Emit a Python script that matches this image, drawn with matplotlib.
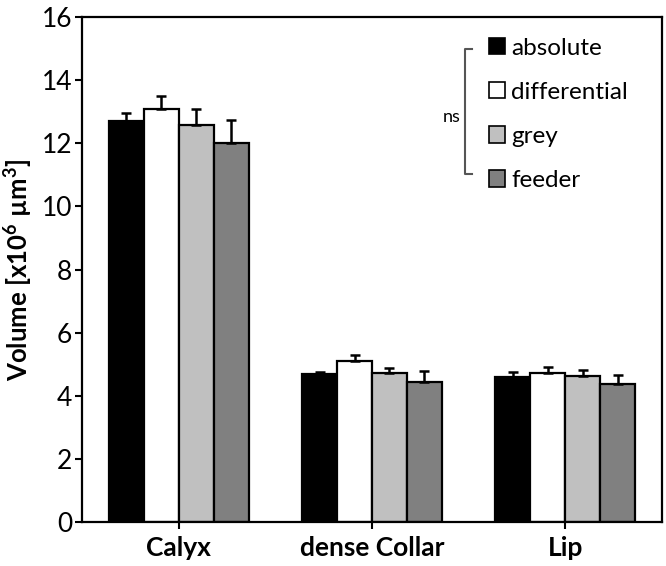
import numpy as np
import matplotlib
matplotlib.use("Agg")
import matplotlib.pyplot as plt
from matplotlib.patches import Patch

plt.rcParams['font.family'] = ['Lato', 'DejaVu Sans']
plt.rcParams['mathtext.default'] = 'regular'

# values
regions = ["Calyx", "dense Collar", "Lip"]
groups = ["absolute", "differential", "grey", "feeder"]
means = {
    "absolute":     [12.72, 4.69, 4.59],
    "differential": [13.08, 5.09, 4.72],
    "grey":         [12.58, 4.72, 4.63],
    "feeder":       [12.00, 4.45, 4.38],
}
errs = {
    "absolute":     [0.25, 0.05, 0.15],
    "differential": [0.42, 0.21, 0.18],
    "grey":         [0.49, 0.15, 0.19],
    "feeder":       [0.75, 0.32, 0.29],
}
colors = ["#000000", "#ffffff", "#c0c0c0", "#808080"]

fig = plt.figure(figsize=(6.66, 5.66), dpi=100)
ax = fig.add_axes([82/666, 1-522/566, 580/666, 505/566])

x = np.arange(len(regions))
w = 0.181
for i, g in enumerate(groups):
    pos = x + (i - 1.5) * w
    ax.bar(pos, means[g], width=w, color=colors[i], edgecolor="black",
           linewidth=1.6, zorder=2)
    ax.errorbar(pos, means[g], yerr=[np.zeros(len(regions)), errs[g]],
                fmt="none", ecolor="black", elinewidth=1.8, capsize=3.5,
                capthick=1.8, zorder=3)

ax.set_xlim(-0.5, 2.5)
ax.set_ylim(0, 16)
ax.set_yticks(np.arange(0, 17, 2))
ax.set_xticks(x)
ax.set_xticklabels(regions, fontsize=19, fontweight="bold")
ax.tick_params(axis="y", labelsize=19, length=5, width=1.5, direction="out",
               pad=2)
ax.tick_params(axis="x", length=5, width=1.5, direction="out", pad=5)
ax.set_ylabel("Volume [x10$^{6}$ µm$^{3}$]", fontsize=18.5, fontweight="bold",
              labelpad=5)
for s in ax.spines.values():
    s.set_linewidth(1.6)

handles = [Patch(facecolor=c, edgecolor="black", linewidth=1.2) for c in colors]
ax.legend(handles, groups, loc="upper left", bbox_to_anchor=(0.685, 0.978),
          frameon=False, fontsize=17.5, handlelength=0.65, handleheight=0.65,
          handletextpad=0.25, labelspacing=0.95, borderaxespad=0)

# significance bracket
bx0, bx1 = (465-82)/580, (472-82)/580
by0, by1 = (522-49)/505, (522-174)/505
ax.plot([bx1, bx0, bx0, bx1], [by0, by0, by1, by1], transform=ax.transAxes,
        color="#555555", linewidth=1.5, clip_on=False)
ax.text(bx0 - 0.008, (by0 + by1) / 2 - 0.01, "ns", transform=ax.transAxes,
        ha="right", va="center", fontsize=13)

fig.savefig("out.png", dpi=100)
